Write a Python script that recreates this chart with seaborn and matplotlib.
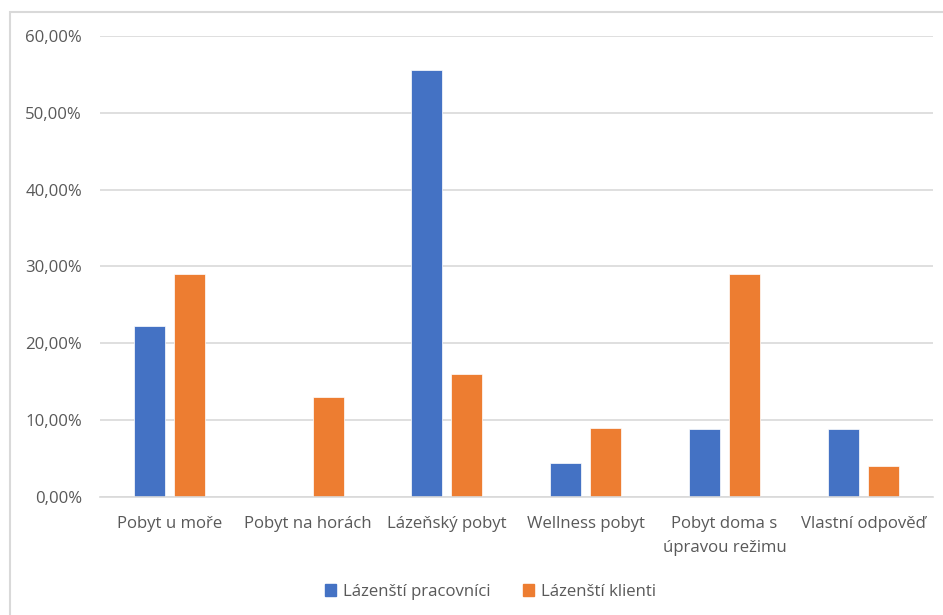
import matplotlib
matplotlib.use("Agg")
import matplotlib.pyplot as plt
import matplotlib.patches as mpatches
import seaborn as sns
import pandas as pd
from matplotlib.ticker import FuncFormatter, MultipleLocator

categories = ["Pobyt u moře", "Pobyt na horách", "Lázeňský pobyt", "Wellness pobyt",
              "Pobyt doma s\núpravou režimu", "Vlastní odpověď"]
series_names = ["Lázenští pracovníci", "Lázenští klienti"]
pracovnici = [22.22, 0.0, 55.56, 4.44, 8.89, 8.89]
klienti = [29.0, 13.0, 16.0, 9.0, 29.0, 4.0]
colors = ["#4472C4", "#ED7D31"]

df = pd.DataFrame({
    "Kategorie": categories * 2,
    "Podíl": pracovnici + klienti,
    "Skupina": [series_names[0]] * len(categories) + [series_names[1]] * len(categories),
})

sns.set_theme(style="white")
plt.rcParams["font.family"] = ["Open Sans", "DejaVu Sans"]

fig = plt.figure(figsize=(9.43, 6.15), dpi=100)
ax = fig.add_axes([0.106, 0.192, 0.883, 0.7495])

sns.barplot(data=df, x="Kategorie", y="Podíl", hue="Skupina", order=categories,
            hue_order=series_names, palette=colors, saturation=1, width=0.576, gap=0.225,
            edgecolor="white", linewidth=0.5, ax=ax, legend=True)

ax.set_ylim(0, 60)
ax.set_xlim(-0.5, len(categories) - 0.5)
ax.yaxis.set_major_locator(MultipleLocator(10))
ax.yaxis.set_major_formatter(FuncFormatter(lambda v, p: f"{v:.2f}".replace(".", ",") + "%"))
ax.grid(axis="y", color="#D9D9D9", linewidth=1.2)
ax.set_axisbelow(True)
for s in ["top", "right", "left"]:
    ax.spines[s].set_visible(False)
ax.spines["bottom"].set_color("#D9D9D9")
ax.spines["bottom"].set_linewidth(1.2)
ax.set_xlabel("")
ax.set_ylabel("")
ax.tick_params(axis="both", length=0, labelsize=12.1, colors="#595959")
ax.tick_params(axis="x", pad=14)
ax.tick_params(axis="y", pad=13)
for lbl in ax.get_xticklabels():
    lbl.set_linespacing(1.65)

handles = [mpatches.Patch(color=c, label=n) for c, n in zip(colors, series_names)]
if ax.get_legend() is not None:
    ax.get_legend().remove()
fig.legend(handles=handles, loc="center", bbox_to_anchor=(0.52, 0.038), ncol=2,
           frameon=False, fontsize=12.1, handlelength=0.7, handleheight=0.7,
           handletextpad=0.4, columnspacing=1.9, labelcolor="#595959")

# outer chart-area border (light gray)
border = mpatches.Rectangle((10 / 943, -0.05), 1.1, 1 - 12 / 615 + 0.05,
                            transform=fig.transFigure, fill=False,
                            edgecolor="#D9D9D9", linewidth=1.5, clip_on=False)
fig.patches.append(border)

fig.savefig("out.png", dpi=100, facecolor="white")
